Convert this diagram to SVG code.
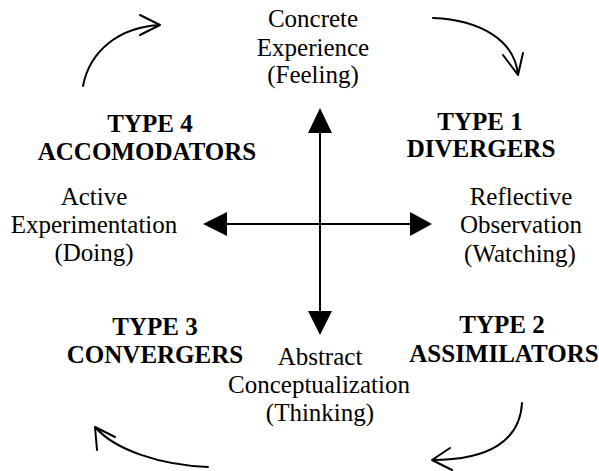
<svg xmlns="http://www.w3.org/2000/svg" width="599" height="471" viewBox="0 0 599 471">
<style>
text{font-family:"Liberation Serif","Times New Roman",serif;font-size:25px;fill:#000;text-anchor:middle}
.b{font-weight:bold}
.ax{stroke:#000;stroke-width:2;fill:none}
.cv{stroke:#000;stroke-width:2;fill:none;stroke-linecap:round;stroke-linejoin:round}
.ah{fill:#000;stroke:none}
</style>
<rect width="599" height="471" fill="#fff"/>
<g id="connectors">
<line class="ax" x1="320" y1="130" x2="320" y2="314"/>
<polygon class="ah" points="320,108 308,133 332,133"/>
<polygon class="ah" points="320,335 308,311 332,311"/>
<line class="ax" x1="225" y1="224" x2="412" y2="224"/>
<polygon class="ah" points="203,224 227,212 227,236"/>
<polygon class="ah" points="432,224 410,212 410,236"/>
<path class="cv" d="M83,86 C90,50 120,27 160,25 M140,15 L160,25 L140,35"/>
<path class="cv" d="M433,18 C480,20 515,40 518,75 M503,55 L518,75 L523,53"/>
<path class="cv" d="M522,403 C520,440 490,460 432,460 M450,448 L432,460 L452,470"/>
<path class="cv" d="M208,467 C160,465 115,450 95,427 M115,437 L95,427 L97,450"/>
</g>
<g id="concrete">
<text x="313" y="27">Concrete</text>
<text x="313" y="56">Experience</text>
<text x="313" y="83">(Feeling)</text>
</g>
<g id="type1">
<text class="b" x="480" y="130">TYPE 1</text>
<text class="b" x="481" y="157">DIVERGERS</text>
</g>
<g id="reflective">
<text x="521" y="205">Reflective</text>
<text x="521" y="233">Observation</text>
<text x="520" y="262">(Watching)</text>
</g>
<g id="type2">
<text class="b" x="502" y="333">TYPE 2</text>
<text class="b" x="504" y="362">ASSIMILATORS</text>
</g>
<g id="abstract">
<text x="320" y="365">Abstract</text>
<text x="319" y="393">Conceptualization</text>
<text x="320" y="421">(Thinking)</text>
</g>
<g id="type3">
<text class="b" x="155" y="335">TYPE 3</text>
<text class="b" x="155" y="363">CONVERGERS</text>
</g>
<g id="active">
<text x="94" y="205">Active</text>
<text x="94" y="233">Experimentation</text>
<text x="94" y="261">(Doing)</text>
</g>
<g id="type4">
<text class="b" x="150" y="132">TYPE 4</text>
<text class="b" x="147" y="160">ACCOMODATORS</text>
</g>
</svg>
